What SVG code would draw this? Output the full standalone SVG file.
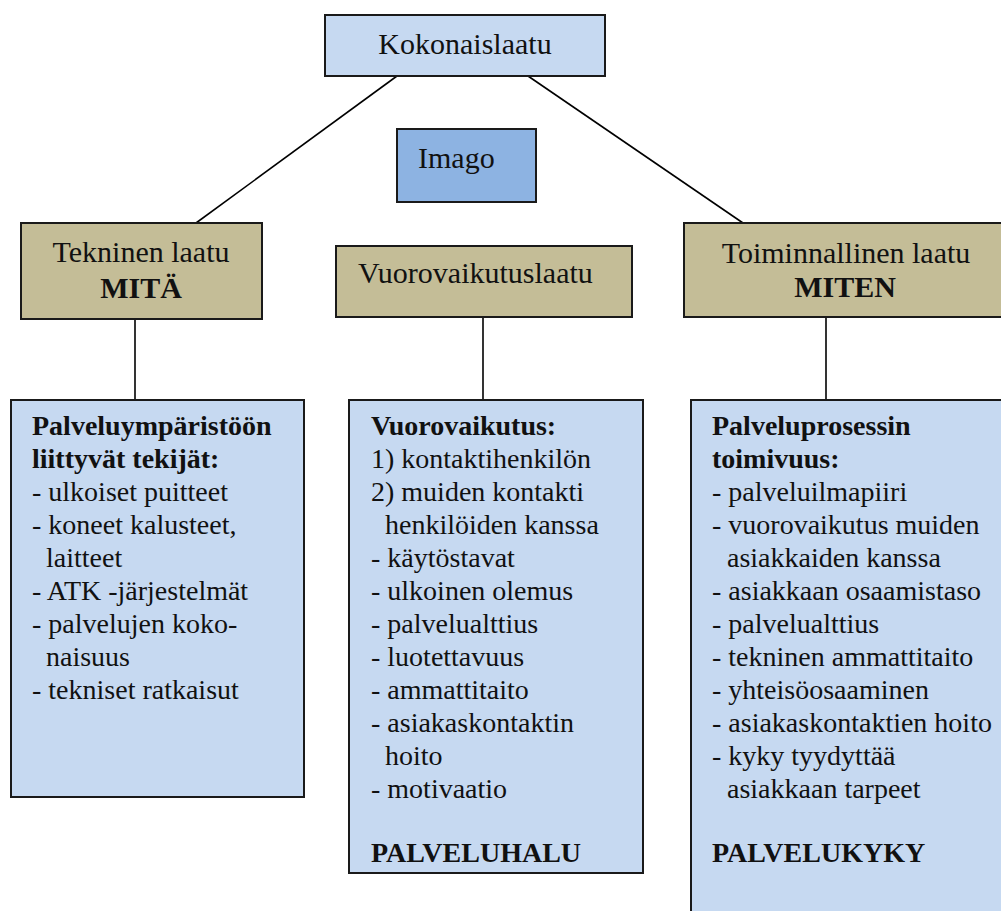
<svg xmlns="http://www.w3.org/2000/svg" width="1001" height="911" viewBox="0 0 1001 911">
  <style>
    .box { stroke: #1a1a1a; stroke-width: 2; }
    .light { fill: #c6d9f1; }
    .tan { fill: #c4bd97; }
    .imago { fill: #8db3e2; }
    .conn { stroke: #000; stroke-width: 1.6; fill: none; }
    .txt { fill: #111; }
    .head { font-size: 30px; }
    .headb { font-size: 30px; font-weight: bold; }
    .body { font-size: 28px; }
    .bold { font-weight: bold; }
  </style>
  <rect width="1001" height="911" fill="#fff"/>

  <g id="connectors">
    <line class="conn" x1="397" y1="76" x2="196" y2="223"/>
    <line class="conn" x1="528" y1="76" x2="743" y2="223"/>
    <line class="conn" x1="135" y1="319" x2="135" y2="400"/>
    <line class="conn" x1="483" y1="317" x2="483" y2="400"/>
    <line class="conn" x1="826" y1="317" x2="826" y2="400"/>
  </g>

  <g font-family="Liberation Serif, DejaVu Serif, serif" class="txt">
  <g id="kokonaislaatu">
    <rect class="box light" x="325" y="15" width="280" height="61"/>
    <text class="head" x="465" y="54" text-anchor="middle">Kokonaislaatu</text>
  </g>

  <g id="imago">
    <rect class="box imago" x="397" y="129" width="139" height="73"/>
    <text class="head" x="418" y="168">Imago</text>
  </g>

  <g id="tekninen">
    <rect class="box tan" x="21" y="223" width="241" height="96"/>
    <text class="head" x="141" y="262" text-anchor="middle">Tekninen laatu</text>
    <text class="headb" x="141" y="298" text-anchor="middle">MITÄ</text>
  </g>

  <g id="vuorovaikutuslaatu">
    <rect class="box tan" x="336" y="246" width="296" height="71"/>
    <text class="head" x="358" y="283">Vuorovaikutuslaatu</text>
  </g>

  <g id="toiminnallinen">
    <rect class="box tan" x="684" y="223" width="330" height="94"/>
    <text class="head" x="846" y="263" text-anchor="middle">Toiminnallinen laatu</text>
    <text class="headb" x="845" y="297" text-anchor="middle">MITEN</text>
  </g>

  <g id="palveluymparisto">
    <rect class="box light" x="11" y="400" width="293" height="397"/>
    <text class="body">
      <tspan class="bold" x="32" y="435">Palveluympäristöön</tspan>
      <tspan class="bold" x="32" y="468">liittyvät tekijät:</tspan>
      <tspan x="32" y="501">- ulkoiset puitteet</tspan>
      <tspan x="32" y="534">- koneet kalusteet,</tspan>
      <tspan x="46" y="567">laitteet</tspan>
      <tspan x="32" y="600">- ATK -järjestelmät</tspan>
      <tspan x="32" y="633">- palvelujen koko-</tspan>
      <tspan x="46" y="666">naisuus</tspan>
      <tspan x="32" y="699">- tekniset ratkaisut</tspan>
    </text>
  </g>

  <g id="vuorovaikutus">
    <rect class="box light" x="349" y="400" width="294" height="473"/>
    <text class="body">
      <tspan class="bold" x="371" y="435">Vuorovaikutus:</tspan>
      <tspan x="371" y="468">1) kontaktihenkilön</tspan>
      <tspan x="371" y="501">2) muiden kontakti</tspan>
      <tspan x="385" y="534">henkilöiden kanssa</tspan>
      <tspan x="371" y="567">- käytöstavat</tspan>
      <tspan x="371" y="600">- ulkoinen olemus</tspan>
      <tspan x="371" y="633">- palvelualttius</tspan>
      <tspan x="371" y="666">- luotettavuus</tspan>
      <tspan x="371" y="699">- ammattitaito</tspan>
      <tspan x="371" y="732">- asiakaskontaktin</tspan>
      <tspan x="385" y="765">hoito</tspan>
      <tspan x="371" y="798">- motivaatio</tspan>
      <tspan class="bold" x="371" y="862">PALVELUHALU</tspan>
    </text>
  </g>

  <g id="palveluprosessi">
    <rect class="box light" x="691" y="400" width="330" height="525"/>
    <text class="body">
      <tspan class="bold" x="712" y="435">Palveluprosessin</tspan>
      <tspan class="bold" x="712" y="468">toimivuus:</tspan>
      <tspan x="712" y="501">- palveluilmapiiri</tspan>
      <tspan x="712" y="534">- vuorovaikutus muiden</tspan>
      <tspan x="727" y="567">asiakkaiden kanssa</tspan>
      <tspan x="712" y="600">- asiakkaan osaamistaso</tspan>
      <tspan x="712" y="633">- palvelualttius</tspan>
      <tspan x="712" y="666">- tekninen ammattitaito</tspan>
      <tspan x="712" y="699">- yhteisöosaaminen</tspan>
      <tspan x="712" y="732">- asiakaskontaktien hoito</tspan>
      <tspan x="712" y="765">- kyky tyydyttää</tspan>
      <tspan x="727" y="798">asiakkaan tarpeet</tspan>
      <tspan class="bold" x="712" y="862">PALVELUKYKY</tspan>
    </text>
  </g>
  </g>
</svg>
